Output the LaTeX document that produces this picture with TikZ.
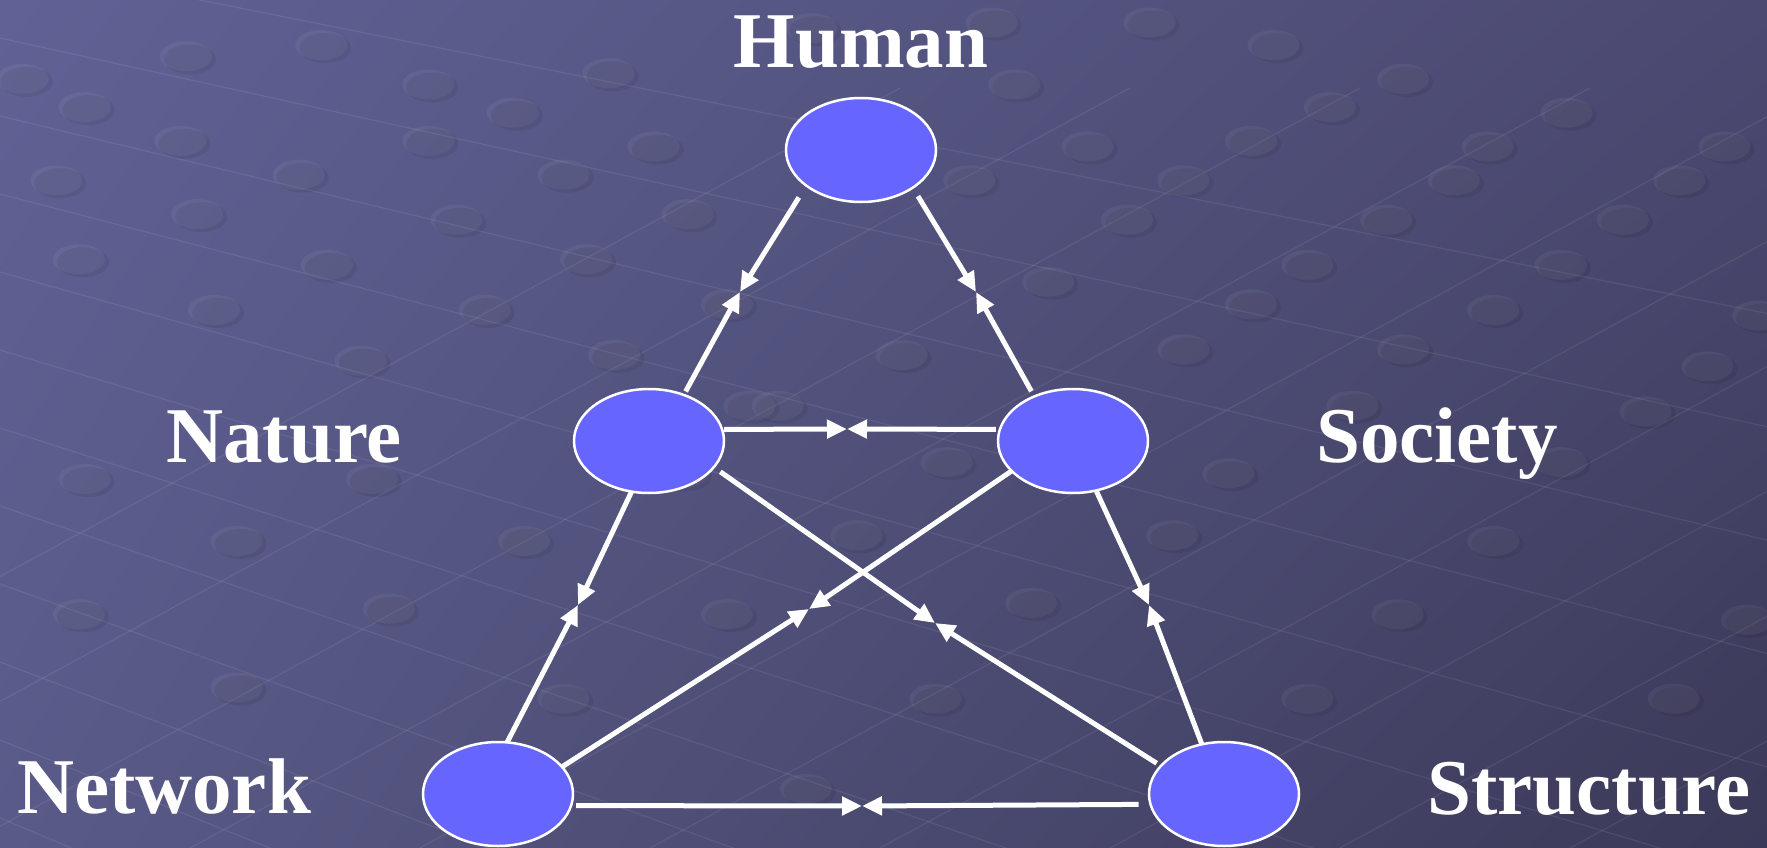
\documentclass[tikz,border=0pt]{standalone}
\usepackage{fontspec}
\setmainfont{Liberation Serif}
\usetikzlibrary{arrows.meta,shapes.geometric,shadings}
\definecolor{nodefill}{HTML}{6666FF}
\definecolor{bgtl}{HTML}{606295}
\definecolor{bgtr}{HTML}{4B4971}
\definecolor{bgbl}{HTML}{595A88}
\definecolor{bgbr}{HTML}{3B3958}
\tikzset{
  circ/.style={ellipse, draw=white, line width=2.5pt, fill=nodefill,
    minimum width=150pt, minimum height=104pt, inner sep=0pt, outer sep=0pt},
  lbl/.style={text=white, font=\fontsize{79}{79}\selectfont\bfseries, anchor=base, inner sep=0pt},
  link/.style={draw=white, line width=5pt,
    -{Triangle[length=20pt,width=18pt]}},
  gridline/.style={draw=white, opacity=0.08, line width=1.2pt},
  dotlight/.style={fill=white, fill opacity=0.05},
  dotdark/.style={fill=black, fill opacity=0.07},
}
\begin{document}
\begin{tikzpicture}[x=1pt,y=-1pt]
\useasboundingbox (0,0) rectangle (1767,848);
\begin{scope}
\clip (0,0) rectangle (1767,848);
\shade[upper left=bgtl, upper right=bgtr, lower left=bgbl, lower right=bgbr] (0,0) rectangle (1767,848);
% perspective grid
\foreach \i in {0,...,11}
  \draw[gridline] (0,{-40+\i*78}) -- (1767,{-40+\i*78+1767*(0.20+0.02*\i)});
\foreach \i in {0,...,9}
  \draw[gridline] ({\i*230-500},848) -- ++(1400,-760);
% dots
\foreach \x/\y in {20/70,75/95,165/50,285/40,380/75,455/100,540/65,580/130,720/25,770/100,
  160/125,265/155,380/125,500/155,610/190,50/160,175/190,290/235,405/195,520/230,645/270,
  70/230,190/275,320/320,430/275,545/315,665/360,75/425,210/480,330/425,465/480,605/420,
  690/360,760/475,800/315,840/410,70/545,210/610,345/540,500/620,645/545,830/620,915/535,
  1040/475,1160/620,1240/545,1325/480,1385/410,1460/365,1550/550,1485/620,1090/420,1110/270,
  1160/235,1230/195,1290/160,1385/235,1325/275,1245/310,1000/195,1050/160,1110/125,1180/95,
  1245/70,1320/130,1390/100,1440/195,1490/160,1515/325,1560/280,930/250,965/130,900/75,
  860/160,880/20,1020/20,1130/40,1050/310,940/400,715/700,1200/360,1530/130}
  {
  \fill[dotdark] ({\x*1.127+4},{\y*1.127+3}) ellipse (26pt and 15pt);
  \fill[dotlight] ({\x*1.127},{\y*1.127}) ellipse (26pt and 15pt);
  }
\end{scope}

% nodes
\node[circ] (human) at (861,150) {};
\node[circ] (nature) at (649,441) {};
\node[circ] (society) at (1073,441) {};
\node[circ] (network) at (498,794) {};
\node[circ] (structure) at (1224,794) {};

% labels
\node[lbl] (lhuman) at (861,68) {Human};
\node[lbl] (lnature) at (284,462) {Nature};
\node[lbl] (lsociety) at (1437,462) {Society};
\node[lbl] (lnetwork) at (164,813) {Network};
\node[lbl] (lstructure) at (1589,814) {Structure};

% meeting points
\coordinate (mHN) at (740,292);
\coordinate (mHS) at (976,292);
\coordinate (mNS) at (847,429);
\coordinate (mNNet) at (578,605);
\coordinate (mSStr) at (1149,605);
\coordinate (mNStr) at (935,623);
\coordinate (mSNet) at (809,609);
\coordinate (mNetStr) at (862,806);

% connectors
\draw[link, shorten <=14pt] (human.213) -- (mHN);
\draw[link, shorten <=4pt] (nature.53) -- (mHN);
\draw[link, shorten <=10pt] (human.324) -- (mHS);
\draw[link, shorten <=6pt] (society.131) -- (mHS);
\draw[link, shorten <=2pt] (nature.9) -- (mNS);
\draw[link, shorten <=4pt] (society.171) -- (mNS);
\draw[link] (nature.251) -- (mNNet);
\draw[link] (network.80) -- (mNNet);
\draw[link, shorten <=1pt] (society.295) -- (mSStr);
\draw[link] (structure.114) -- (mSStr);
\draw[link, shorten <=8pt] (nature.338) -- (mNStr);
\draw[link, shorten <=5pt] (structure.156) -- (mNStr);
\draw[link] (society.206) -- (mSNet);
\draw[link] (network.23) -- (mSNet);
\draw[link, shorten <=5pt] (network.351) -- (mNetStr);
\draw[link, shorten <=12pt] (structure.188) -- (mNetStr);
\end{tikzpicture}
\end{document}
